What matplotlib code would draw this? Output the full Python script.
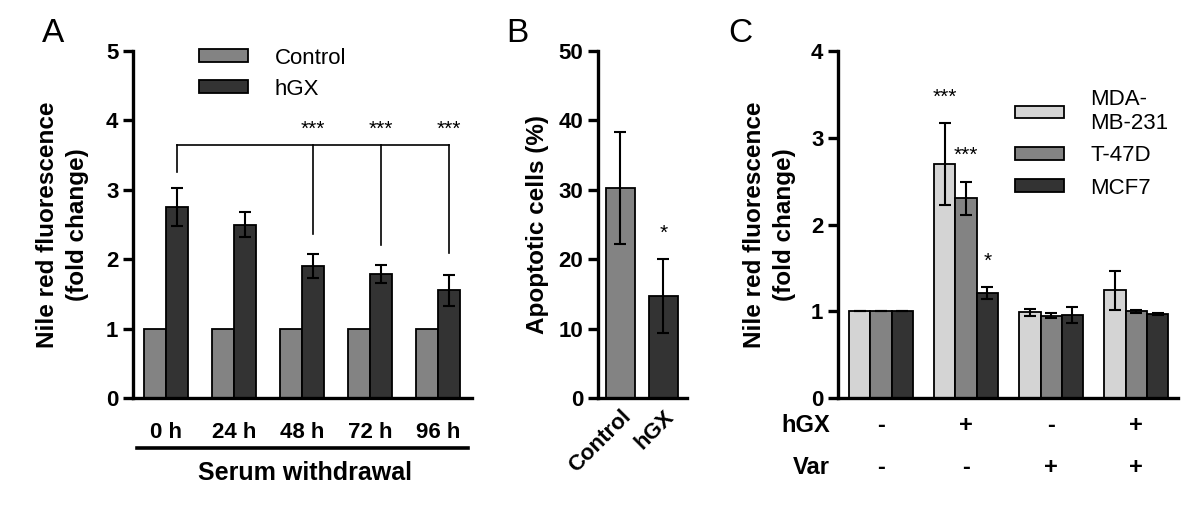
import numpy as np
import matplotlib.pyplot as plt
from matplotlib.patches import Patch

plt.rcParams['font.family'] = ['Liberation Sans', 'DejaVu Sans']

# Panel A data
timepoints = ['0 h', '24 h', '48 h', '72 h', '96 h']
a_control = [1, 1, 1, 1, 1]
a_hgx = [2.75, 2.50, 1.90, 1.79, 1.55]
a_hgx_err = [0.27, 0.18, 0.17, 0.13, 0.22]

# Panel B data
b_labels = ['Control', 'hGX']
b_values = [30.3, 14.7]
b_err = [8.1, 5.3]

# Panel C data
c_lines = ['MDA-\nMB-231', 'T-47D', 'MCF7']
c_mda = [1.0, 2.70, 0.99, 1.24]
c_mda_err = [0, 0.47, 0.04, 0.22]
c_t47d = [1.0, 2.30, 0.95, 1.00]
c_t47d_err = [0, 0.19, 0.03, 0.02]
c_mcf7 = [1.0, 1.21, 0.96, 0.97]
c_mcf7_err = [0, 0.07, 0.09, 0.01]
c_hgx = ['-', '+', '-', '+']
c_var = ['-', '-', '+', '+']

light = '#d4d4d4'
mid = '#838383'
dark = '#333333'

fig = plt.figure(figsize=(12, 5.22), dpi=100)

def style(ax):
    for s in ['top', 'right']:
        ax.spines[s].set_visible(False)
    ax.spines['left'].set_linewidth(2.4)
    ax.spines['bottom'].set_linewidth(2.4)
    ax.tick_params(axis='y', length=7.5, width=2.4, labelsize=16, pad=3)
    ax.tick_params(axis='x', length=0, labelsize=16)
    for t in ax.get_yticklabels():
        t.set_fontweight('bold')

err_kw = dict(ecolor='black', elinewidth=1.5, capsize=4.5, capthick=1.5)
star_fs = 15

# ---------------- A ----------------
axA = fig.add_axes([0.1108, 0.2375, 0.2825, 0.6648])
x = np.arange(len(timepoints))
w = 0.33
axA.bar(x - w / 2, a_control, w, color=mid, edgecolor='black', linewidth=1.3)
axA.bar(x + w / 2, a_hgx, w, yerr=a_hgx_err, color=dark, edgecolor='black', linewidth=1.3, error_kw=err_kw)
axA.set_xlim(-0.485, 4.5)
axA.set_ylim(0, 5)
axA.set_yticks([0, 1, 2, 3, 4, 5])
axA.set_xticks(x)
axA.set_xticklabels(timepoints, fontweight='bold')
style(axA)
axA.tick_params(axis='x', pad=17)
axA.set_ylabel('Nile red fluorescence\n(fold change)', fontsize=17.5, fontweight='bold',
               labelpad=12, linespacing=1.4)

# significance bracket
bx = x + w / 2
axA.plot([bx[0], bx[4]], [3.65, 3.65], color='black', lw=1.2)
axA.plot([bx[0], bx[0]], [3.65, 3.25], color='black', lw=1.2)
for i, lo in zip([2, 3, 4], [2.36, 2.2, 2.09]):
    axA.plot([bx[i], bx[i]], [3.65, lo], color='black', lw=1.2)
    axA.text(bx[i], 3.87, '***', ha='center', va='center', fontsize=star_fs)

tr = axA.get_xaxis_transform()
axA.plot([-0.43, 4.44], [-0.144, -0.144], color='black', lw=2.6, transform=tr, clip_on=False)
axA.text(2.04, -0.216, 'Serum withdrawal', transform=tr, ha='center', va='center',
         fontsize=18, fontweight='bold')

axA.legend(handles=[Patch(facecolor=mid, edgecolor='black', linewidth=1.3, label='Control'),
                    Patch(facecolor=dark, edgecolor='black', linewidth=1.3, label='hGX')],
           loc='upper left', bbox_to_anchor=(0.195, 1.01), frameon=False, fontsize=16,
           handlelength=2.2, handleheight=0.5, handletextpad=1.2, labelspacing=0.45,
           borderpad=0, borderaxespad=0)
fig.text(0.044, 0.935, 'A', fontsize=24, ha='center', va='center')

# ---------------- B ----------------
axB = fig.add_axes([0.4983, 0.2375, 0.0742, 0.6648])
xb = np.arange(len(b_labels))
axB.bar(xb, b_values, 0.67, yerr=b_err, color=[mid, dark], edgecolor='black', linewidth=1.3, error_kw=err_kw)
axB.set_xlim(-0.52, 1.55)
axB.set_ylim(0, 50)
axB.set_yticks([0, 10, 20, 30, 40, 50])
axB.set_xticks(xb)
axB.set_xticklabels(b_labels, fontweight='bold', rotation=45, ha='right', rotation_mode='anchor')
style(axB)
axB.tick_params(axis='x', pad=6)
axB.text(1, 23.8, '*', ha='center', va='center', fontsize=star_fs)
axB.set_ylabel('Apoptotic cells (%)', fontsize=17.5, fontweight='bold', labelpad=7)
fig.text(0.431, 0.935, 'B', fontsize=24, ha='center', va='center')

# ---------------- C ----------------
axC = fig.add_axes([0.6983, 0.2375, 0.2833, 0.6648])
xc = np.arange(4)
wc = 0.25
axC.bar(xc - wc, c_mda, wc, yerr=c_mda_err, color=light, edgecolor='black', linewidth=1.3, error_kw=err_kw)
axC.bar(xc, c_t47d, wc, yerr=c_t47d_err, color=mid, edgecolor='black', linewidth=1.3, error_kw=err_kw)
axC.bar(xc + wc, c_mcf7, wc, yerr=c_mcf7_err, color=dark, edgecolor='black', linewidth=1.3, error_kw=err_kw)
axC.set_xlim(-0.506, 3.49)
axC.set_ylim(0, 4)
axC.set_yticks([0, 1, 2, 3, 4])
axC.set_xticks([])
style(axC)
axC.set_ylabel('Nile red fluorescence\n(fold change)', fontsize=17.5, fontweight='bold',
               labelpad=11, linespacing=1.4)

axC.text(1 - wc, 3.47, '***', ha='center', va='center', fontsize=star_fs)
axC.text(1, 2.8, '***', ha='center', va='center', fontsize=star_fs)
axC.text(1 + wc, 1.58, '*', ha='center', va='center', fontsize=star_fs)

trc = axC.get_xaxis_transform()
axC.text(-0.6, -0.078, 'hGX', transform=trc, ha='right', va='center', fontsize=17, fontweight='bold')
axC.text(-0.6, -0.2, 'Var', transform=trc, ha='right', va='center', fontsize=17, fontweight='bold')
for i in range(4):
    axC.text(xc[i], -0.078, c_hgx[i], transform=trc, ha='center', va='center', fontsize=17, fontweight='bold')
    axC.text(xc[i], -0.2, c_var[i], transform=trc, ha='center', va='center', fontsize=17, fontweight='bold')

axC.legend(handles=[Patch(facecolor=c, edgecolor='black', linewidth=1.3, label=l)
                    for c, l in zip([light, mid, dark], c_lines)],
           loc='upper left', bbox_to_anchor=(0.52, 0.89), frameon=False, fontsize=16,
           handlelength=2.2, handleheight=0.5, handletextpad=1.2, labelspacing=0.5,
           borderpad=0, borderaxespad=0)
fig.text(0.617, 0.935, 'C', fontsize=24, ha='center', va='center')

fig.savefig('out.png', dpi=100)
